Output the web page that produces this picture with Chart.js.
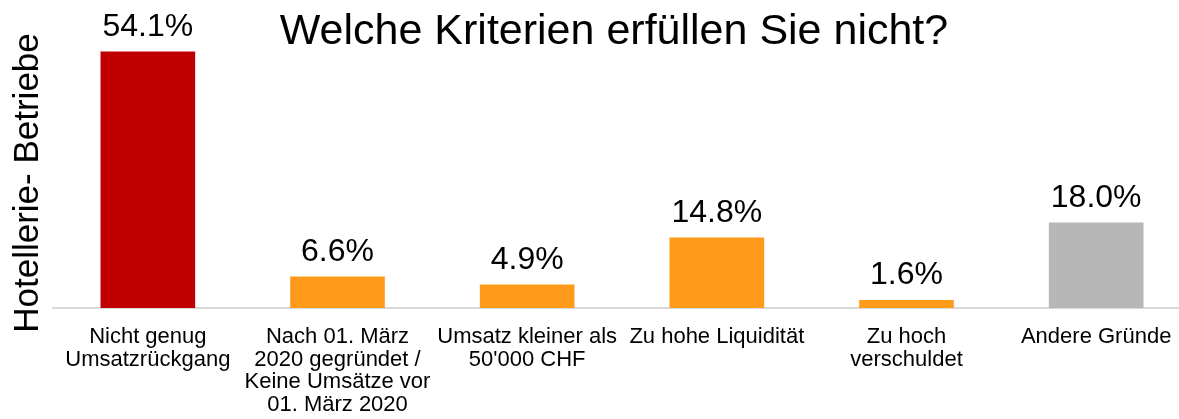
<!DOCTYPE html>
<html><head><meta charset="utf-8">
<script src="https://cdn.jsdelivr.net/npm/chart.js@4"></script>
<style>html,body{margin:0;padding:0;background:#fff;overflow:hidden;width:1179px;height:419px}#wrap{width:1191px;height:419px}</style>
</head><body><div id="wrap"><canvas id="c" width="1191" height="419"></canvas></div>
<script>
const categories = [
  ["Nicht genug", "Umsatzrückgang"],
  ["Nach 01. März", "2020 gegründet /", "Keine Umsätze vor", "01. März 2020"],
  ["Umsatz kleiner als", "50'000 CHF"],
  ["Zu hohe Liquidität"],
  ["Zu hoch", "verschuldet"],
  ["Andere Gründe"]
];
const values = [54.1, 6.6, 4.9, 14.8, 1.6, 18.0];
const barColors = ["#C00000", "#FF9A1A", "#FF9A1A", "#FF9A1A", "#FF9A1A", "#B7B7B7"];
const chartTitle = "Welche Kriterien erfüllen Sie nicht?";
const yTitle = "Hotellerie- Betriebe";
const FONT = "'Liberation Sans', Arial, sans-serif";

const overlay = {
  id: 'overlay',
  afterDatasetsDraw(chart) {
    const ctx = chart.ctx;
    const meta = chart.getDatasetMeta(0);
    ctx.save();
    ctx.fillStyle = '#000';
    ctx.textAlign = 'center';
    ctx.textBaseline = 'middle';
    ctx.font = "32px " + FONT;
    meta.data.forEach((bar, i) => {
      ctx.fillText(values[i].toFixed(1) + '%', bar.x, bar.y - 25);
    });
    ctx.font = "43px " + FONT;
    ctx.fillText(chartTitle, 614, 32);
    ctx.translate(28, 183);
    ctx.rotate(-Math.PI / 2);
    ctx.font = "35px " + FONT;
    ctx.fillText(yTitle, 0, 0);
    ctx.restore();
  }
};

new Chart(document.getElementById('c'), {
  type: 'bar',
  data: {
    labels: categories,
    datasets: [{ data: values, backgroundColor: barColors, borderWidth: 0, barThickness: 94 }]
  },
  options: {
    responsive: false,
    animation: false,
    layout: { padding: { top: 24, right: 0, bottom: 0, left: 53 } },
    plugins: { legend: { display: false }, tooltip: { enabled: false } },
    scales: {
      x: {
        grid: { display: false },
        border: { display: true, color: '#D9D9D9', width: 2 },
        ticks: { color: '#000', font: { family: FONT, size: 22, lineHeight: 1.02 }, padding: 10, maxRotation: 0, autoSkip: false },
        afterFit(axis) { axis.height = 111; }
      },
      y: {
        display: false,
        min: 0, max: 60
      }
    }
  },
  plugins: [overlay]
});
</script></body></html>
